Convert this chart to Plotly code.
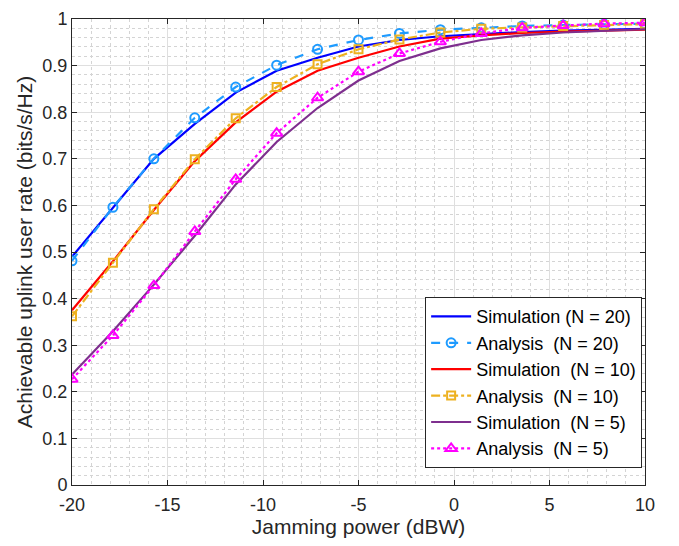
import plotly.graph_objects as go

x = [-20 + i * 30 / 14 for i in range(15)]

sim20 = [0.49, 0.596, 0.700, 0.775, 0.842, 0.889, 0.917, 0.941, 0.955, 0.963, 0.968, 0.972, 0.975, 0.977, 0.979]
ana20 = [0.481, 0.596, 0.700, 0.788, 0.854, 0.901, 0.935, 0.955, 0.969, 0.977, 0.981, 0.985, 0.987, 0.989, 0.990]
sim10 = [0.375, 0.480, 0.590, 0.695, 0.778, 0.844, 0.889, 0.917, 0.941, 0.958, 0.965, 0.970, 0.973, 0.975, 0.977]
ana10 = [0.362, 0.477, 0.592, 0.699, 0.787, 0.854, 0.903, 0.935, 0.956, 0.971, 0.979, 0.982, 0.985, 0.987, 0.989]
sim5 = [0.237, 0.330, 0.430, 0.535, 0.645, 0.736, 0.809, 0.868, 0.910, 0.937, 0.955, 0.965, 0.971, 0.975, 0.978]
ana5 = [0.227, 0.321, 0.428, 0.544, 0.656, 0.755, 0.831, 0.887, 0.926, 0.951, 0.969, 0.981, 0.986, 0.990, 0.992]

xticks = [-20, -15, -10, -5, 0, 5, 10]
yticks = [0, 0.1, 0.2, 0.3, 0.4, 0.5, 0.6, 0.7, 0.8, 0.9, 1]
yticklabels = ["0", "0.1", "0.2", "0.3", "0.4", "0.5", "0.6", "0.7", "0.8", "0.9", "1"]

names = ["Simulation (N = 20)", "Analysis  (N = 20)", "Simulation  (N = 10)",
         "Analysis  (N = 10)", "Simulation  (N = 5)", "Analysis  (N = 5)"]

FONT = "Liberation Sans, Arial, Helvetica"

fig = go.Figure()
fig.add_trace(go.Scatter(x=x, y=sim20, mode="lines", name=names[0],
                         line=dict(color="#0000FF", width=2.2)))
fig.add_trace(go.Scatter(x=x, y=ana20, mode="lines+markers", name=names[1],
                         line=dict(color="#1E9BFF", width=2.2, dash="dash"),
                         marker=dict(symbol="circle-open", size=9, line=dict(width=2, color="#1E9BFF"))))
fig.add_trace(go.Scatter(x=x, y=sim10, mode="lines", name=names[2],
                         line=dict(color="#FF0000", width=2.2)))
fig.add_trace(go.Scatter(x=x, y=ana10, mode="lines+markers", name=names[3],
                         line=dict(color="#EDB120", width=2.2, dash="dashdot"),
                         marker=dict(symbol="square-open", size=8, line=dict(width=2, color="#EDB120"))))
fig.add_trace(go.Scatter(x=x, y=sim5, mode="lines", name=names[4],
                         line=dict(color="#7E2F8E", width=2.2)))
fig.add_trace(go.Scatter(x=x, y=ana5, mode="lines+markers", name=names[5],
                         line=dict(color="#FF00FF", width=2.2, dash="dot"),
                         marker=dict(symbol="triangle-up-open", size=10, line=dict(width=2, color="#FF00FF"))))

axis_common = dict(
    showline=True, linecolor="#262626", linewidth=1, mirror="ticks",
    ticks="inside", ticklen=5, tickcolor="#262626",
    showgrid=True, gridcolor="#DFDFDF", gridwidth=1,
    zeroline=False, automargin=False, ticklabeloverflow="allow",
    tickfont=dict(family=FONT, size=18, color="#262626"),
)

fig.update_xaxes(range=[-20, 10], tickvals=xticks,
                 ticktext=[str(v) for v in xticks], ticklabelstandoff=3,
                 title=dict(text="Jamming power (dBW)", font=dict(family=FONT, size=21, color="#262626"), standoff=2),
                 minor=dict(dtick=1, showgrid=True, gridcolor="#D4D4D4", griddash="dot", gridwidth=1, ticks=""),
                 **axis_common)
fig.update_yaxes(range=[0, 1],
                 tickvals=yticks, ticktext=yticklabels,
                 title=dict(text="Achievable uplink user rate (bits/s/Hz)", font=dict(family=FONT, size=21, color="#262626"), standoff=4),
                 minor=dict(dtick=0.02, showgrid=True, gridcolor="#D4D4D4", griddash="dot", gridwidth=1, ticks=""),
                 **axis_common)

fig.update_layout(
    width=679, height=546,
    margin=dict(l=64, r=42, t=11, b=69),
    plot_bgcolor="white", paper_bgcolor="white",
    legend=dict(x=0.995, y=0.036, xanchor="right", yanchor="bottom",
                bgcolor="white", bordercolor="#262626", borderwidth=1,
                font=dict(family=FONT, size=18, color="#000000"),
                tracegroupgap=0, itemwidth=40),
    showlegend=True,
)

fig.write_html("out.html")
